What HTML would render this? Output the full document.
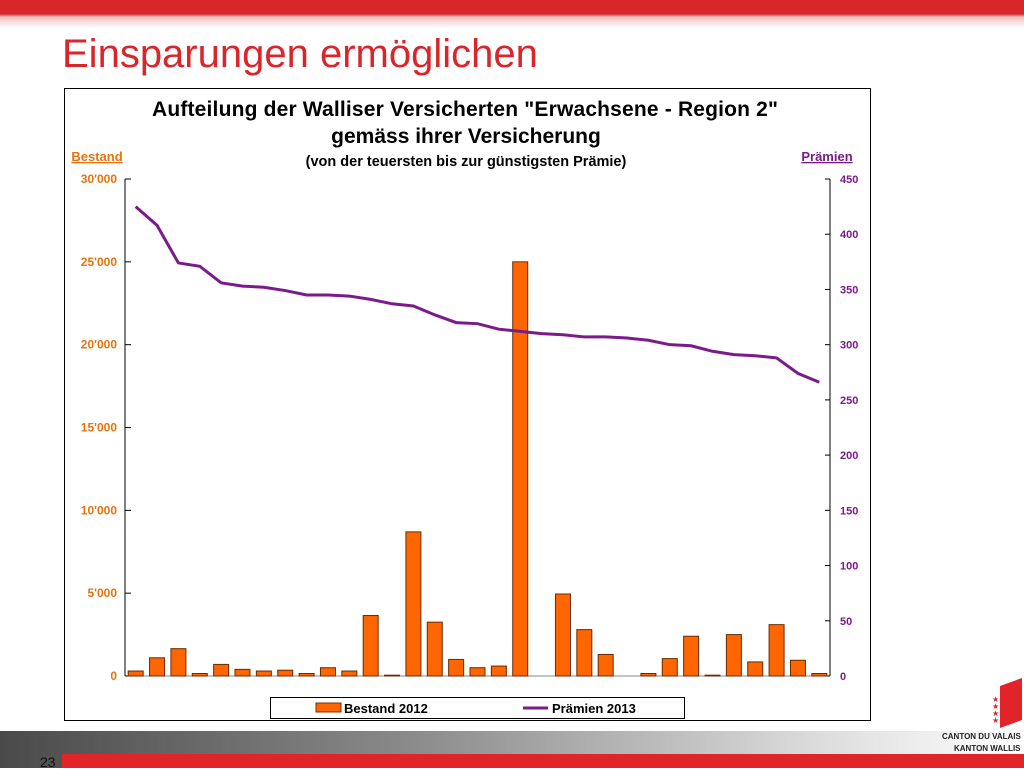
<!DOCTYPE html>
<html><head><meta charset="utf-8"><style>
body{margin:0;width:1024px;height:768px;position:relative;overflow:hidden;background:#fff;font-family:"Liberation Sans",sans-serif}
.abs{position:absolute}
</style></head><body>
<div class="abs" style="left:0;top:0;width:1024px;height:28px;background:linear-gradient(#d8262b 0,#d8262b 14px,#f0c0c0 17px,#fff 28px)"></div>
<div class="abs" style="left:62px;top:32px;font-size:40px;color:#d8262b">Einsparungen ermöglichen</div>
<div class="abs" style="left:0;top:731px;width:1024px;height:37px;background:linear-gradient(90deg,#4a4a4a,#8a8a8a 40%,#dcdcdc 80%,#fff)"></div>
<div class="abs" style="left:62px;top:754px;width:962px;height:14px;background:#e0242a"></div>
<div class="abs" style="left:40px;top:754px;font-size:14px;color:#111">23</div>
<div class="abs" style="left:940px;top:680px;width:84px;height:60px">
<div class="abs" style="left:60px;top:2px;width:22px;height:42px;background:#e0242a;transform:skewY(-20deg)"></div>
<div class="abs" style="left:52px;top:16px;font-size:8px;color:#e0242a;line-height:7px">★<br>★<br>★<br>★</div>
<div class="abs" style="left:2px;top:52px;font-size:8px;font-weight:bold;color:#222;white-space:nowrap">CANTON DU VALAIS</div>
</div>
<div class="abs" style="left:954px;top:744px;font-size:8px;font-weight:bold;color:#222">KANTON WALLIS</div>
<svg class="abs" style="left:0;top:0" width="1024" height="768">
<rect x="64.5" y="88.5" width="806" height="632" fill="#fff" stroke="#000"/>
<g font-family="Liberation Sans, sans-serif" font-weight="bold" text-anchor="middle">
<text x="465" y="116" font-size="21" textLength="626">Aufteilung der Walliser Versicherten "Erwachsene - Region 2"</text>
<text x="466" y="143" font-size="21">gemäss ihrer Versicherung</text>
<text x="466" y="166" font-size="14.5">(von der teuersten bis zur günstigsten Prämie)</text>
<text x="97" y="161" font-size="13" fill="#e8720c" text-decoration="underline">Bestand</text>
<text x="827" y="161" font-size="13" fill="#7b1a8a" text-decoration="underline">Prämien</text>
</g>
<g id="axes"></g><g id="bars"></g><g id="line"></g>
<rect x="270.5" y="697.5" width="414" height="21" fill="#fff" stroke="#000"/>
<rect x="316" y="703" width="25" height="9" fill="#ff6600" stroke="#7a3000"/>
<text x="344" y="713" font-size="13" font-weight="bold" font-family="Liberation Sans, sans-serif">Bestand 2012</text>
<line x1="523" y1="708" x2="548" y2="708" stroke="#7b1a8a" stroke-width="3"/>
<text x="552" y="713" font-size="13" font-weight="bold" font-family="Liberation Sans, sans-serif">Prämien 2013</text>
</svg>
<script>
const bestand=[300,1100,1650,150,700,400,300,350,150,500,300,3650,50,8700,3250,1000,500,600,25000,0,4950,2800,1300,0,150,1050,2400,50,2500,850,3100,950,150];
const praemien=[425,408,374,371,356,353,352,349,345,345,344,341,337,335,327,320,319,314,312,310,309,307,307,306,304,300,299,294,291,290,288,274,266];
const leftTicks=[0,5000,10000,15000,20000,25000,30000];
const leftLabels=["0","5'000","10'000","15'000","20'000","25'000","30'000"];
const rightTicks=[0,50,100,150,200,250,300,350,400,450];
const ns="http://www.w3.org/2000/svg";
const X0=125,X1=830,Y0=676,Y1=179;
const n=bestand.length,slot=(X1-X0)/n;
const yL=v=>Y0-v/30000*(Y0-Y1), yR=v=>Y0-v/450*(Y0-Y1), xC=i=>X0+slot*(i+0.5);
function mk(t,a,p){const e=document.createElementNS(ns,t);for(const k in a)e.setAttribute(k,a[k]);p.appendChild(e);return e;}
const ax=document.getElementById('axes');
let e=mk('line',{x1:X0,y1:Y1,x2:X0,y2:Y0,stroke:'#000'},ax);


e=mk('line',{x1:X1,y1:Y1,x2:X1,y2:Y0,stroke:'#000'},ax);


e=mk('line',{x1:X0,y1:Y0,x2:X1,y2:Y0,stroke:'#888'},ax);


leftTicks.forEach((v,i)=>{const y=yL(v);
 mk('line',{x1:X0,y1:y,x2:X0+6,y2:y,stroke:'#000'},ax);
 const t=mk('text',{x:X0-8,y:y+4,'text-anchor':'end','font-size':12,'font-weight':'bold',fill:'#e8720c','font-family':'Liberation Sans, sans-serif'},ax);
 t.textContent=leftLabels[i];
 
 });
rightTicks.forEach(v=>{const y=yR(v);
 mk('line',{x1:X1-5,y1:y,x2:X1,y2:y,stroke:'#000'},ax);
 const t=mk('text',{x:X1+10,y:y+4,'font-size':11,'font-weight':'bold',fill:'#7b1a8a','font-family':'Liberation Sans, sans-serif'},ax);
 t.textContent=v;
 
 });
const bg=document.getElementById('bars');
bestand.forEach((v,i)=>{const w=15,y=yL(v);
 const r=mk('rect',{x:xC(i)-w/2,y:y,width:w,height:Y0-y,fill:'#ff6600',stroke:'#6b2a00','stroke-width':1},bg);
 
 });
const pts=praemien.map((v,i)=>xC(i)+','+yR(v)).join(' ');
const pl=mk('polyline',{points:pts,fill:'none',stroke:'#7b1a8a','stroke-width':3},document.getElementById('line'));


</script>
</body></html>
